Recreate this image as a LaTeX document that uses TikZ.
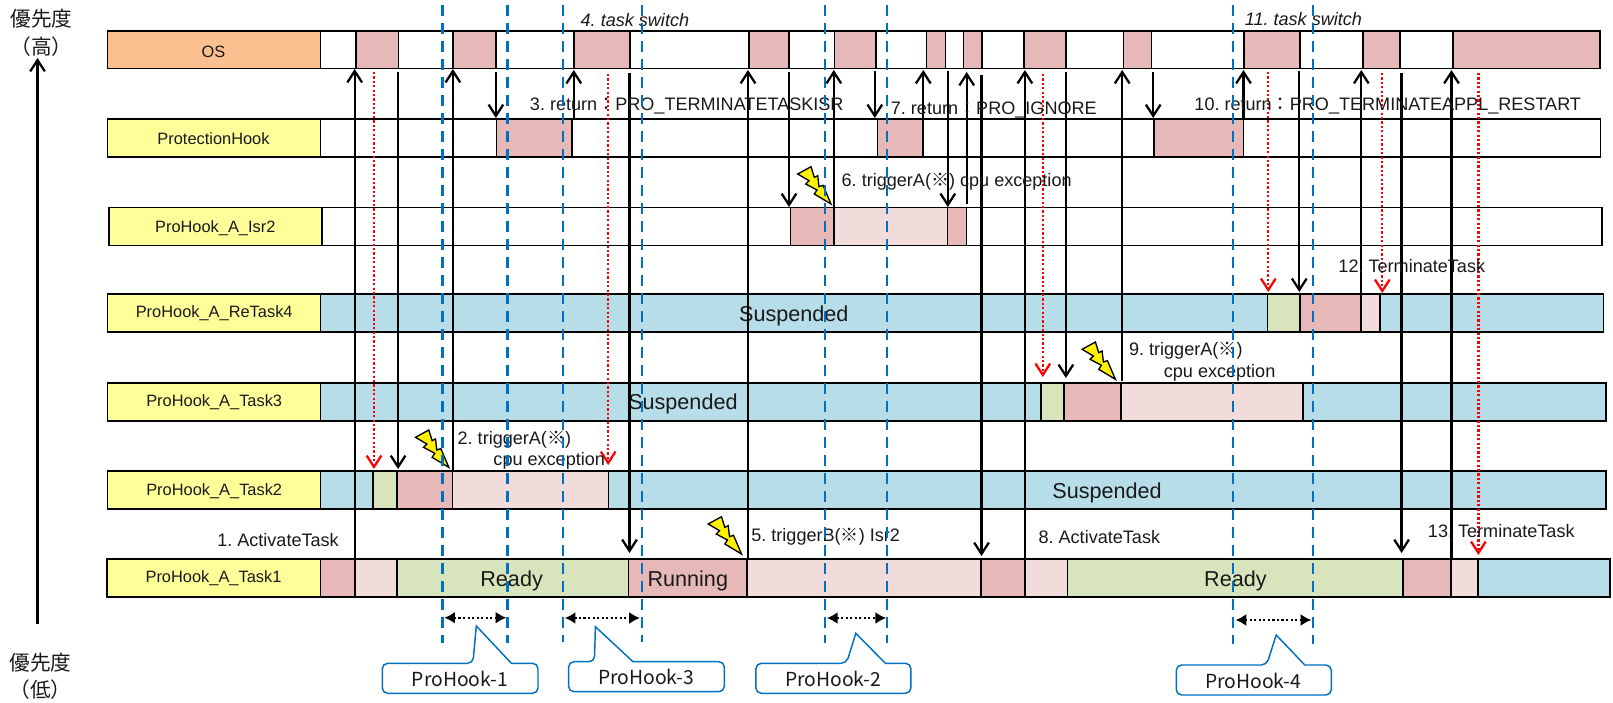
\documentclass[tikz,border=0pt]{standalone}
\usepackage{fontspec}
\usetikzlibrary{arrows.meta}
\setmainfont{Liberation Sans}
\newfontfamily\cjk{Noto Sans CJK JP}
\newcommand{\cj}[1]{{\cjk #1}}
\definecolor{dark}{HTML}{E6B8B7}
\definecolor{light}{HTML}{F2DCDB}
\definecolor{readyc}{HTML}{D8E4BC}
\definecolor{susp}{HTML}{B7DDE8}
\definecolor{lab}{HTML}{FFFF99}
\definecolor{oslab}{HTML}{FAC090}
\definecolor{bluel}{HTML}{0070C0}
\tikzset{
 x=0.75pt,y=-0.75pt,
 seg/.style={draw=black,line width=1.3pt},
 txt/.style={inner sep=0pt,font=\fontsize{13.55}{15}\selectfont,text=black!90},
 rowlab/.style={inner sep=0pt,font=\fontsize{12.3}{14}\selectfont,text=black!90},
 state/.style={inner sep=0pt,font=\fontsize{16.2}{18}\selectfont,text=black!90},
 upar/.style={draw=black,line width=1.7pt,-{Straight Barb[length=8.5pt,width=11pt,line width=1.7pt]}},
 downar/.style={upar},
 redar/.style={draw=red,line width=1.7pt,dash pattern=on 1.6pt off 1.7pt,-{Straight Barb[length=8.5pt,width=11pt,line width=1.7pt]}},
 bluedash/.style={draw=bluel,line width=1.9pt,dash pattern=on 8pt off 5.5pt},
 span/.style={draw=black,line width=1.7pt,dash pattern=on 1.6pt off 1.8pt,{Latex[length=8pt,width=9pt]}-{Latex[length=8pt,width=9pt]}},
 callout/.style={draw=bluel,fill=white,line width=1.1pt,rounded corners=4pt},
 prio/.style={inner sep=0pt,font=\cjk\fontsize{15.5}{17}\selectfont,text=black!90},
 cotext/.style={inner sep=0pt,font=\cjk\fontsize{14.5}{16}\selectfont,text=black!90},
 bolt/.style={draw=black,fill=yellow,line width=1pt,miter limit=10},
}
\newcommand{\boltat}[1]{\begin{scope}[shift={(#1)}]\draw[bolt] (-33.3,-30) -- (-20,-37.3) -- (-16.7,-26.7) -- (-13.3,-28.3) -- (-12,-17.3) -- (-8,-18.7) -- (0,0) -- (-16.7,-10) -- (-14,-14) -- (-25.3,-20) -- (-22,-23.3) -- cycle;\end{scope}}
\begin{document}
\frenchspacing
\begin{tikzpicture}
\useasboundingbox (0,0) rectangle (1613,703);
% OS row
\draw[seg,fill=white] (320.6,31) rectangle (1600,68.5);
\draw[seg,fill=oslab] (107.5,31) rectangle (320.6,68.5);
\foreach \a/\b in {355.8/398.5,452.9/496.3,574.1/630.2,749/788.7,834.5/875.8,926.4/945.4,963.6/981.9,1023.9/1065.9,1123.6/1151.5,1244.2/1300.3,1363/1400.2,1453.2/1600}
 \draw[seg,fill=dark] (\a,31) rectangle (\b,68.5);
\node[rowlab] (tos) at (213.5,52) {OS};
% ProtectionHook row
\draw[seg,fill=white] (320.6,119) rectangle (1600.6,157);
\draw[seg,fill=lab] (107.5,119) rectangle (320.6,157);
\foreach \a/\b in {496.6/572,877.5/923.3,1153.9/1243.5}
 \draw[seg,fill=dark] (\a,119) rectangle (\b,157);
\node[rowlab] (tph) at (213.5,138.3) {ProtectionHook};
% Isr2 row
\draw[seg,fill=white] (322,207.5) rectangle (1602.3,245.5);
\draw[seg,fill=lab] (108.8,207.5) rectangle (322,245.5);
\draw[seg,fill=dark] (790.4,207.5) rectangle (833.8,245.5);
\draw[seg,fill=light] (833.8,207.5) rectangle (947.4,245.5);
\draw[seg,fill=dark] (947.4,207.5) rectangle (966.4,245.5);
\node[rowlab] (tisr) at (215.3,228) {ProHook\_A\_Isr2};
% ReTask4 row
\draw[seg,fill=susp] (320.6,294) rectangle (1603.4,332);
\draw[seg,fill=lab] (107.5,294) rectangle (320.6,332);
\draw[seg,fill=readyc] (1267.6,294) rectangle (1300.3,332);
\draw[seg,fill=dark] (1300.3,294) rectangle (1361.3,332);
\draw[seg,fill=light] (1361.3,294) rectangle (1380.2,332);
\node[rowlab] (tr4) at (214.2,313.3) {ProHook\_A\_ReTask4};
\node[state] (s4) at (793.8,315.5) {Suspended};
% Task3 row
\draw[seg,fill=susp] (320.6,382.7) rectangle (1606,421);
\draw[seg,fill=lab] (107.5,382.7) rectangle (320.6,421);
\draw[seg,fill=readyc] (1041.1,382.7) rectangle (1064.2,421);
\draw[seg,fill=dark] (1064.2,382.7) rectangle (1121.2,421);
\draw[seg,fill=light] (1121.2,382.7) rectangle (1302.7,421);
\node[rowlab] (tt3) at (214.2,402.3) {ProHook\_A\_Task3};
\node[state] (s3) at (682.9,403.7) {Suspended};
% Task2 row
\draw[seg,fill=susp] (320.6,471) rectangle (1605.8,509.3);
\draw[seg,fill=lab] (107.5,471) rectangle (320.6,509.3);
\draw[seg,fill=readyc] (373,471) rectangle (397.1,509.3);
\draw[seg,fill=dark] (397.1,471) rectangle (452.5,509.3);
\draw[seg,fill=light] (452.5,471) rectangle (608.5,509.3);
\node[rowlab] (tt2) at (214.2,490.7) {ProHook\_A\_Task2};
\node[state] (s2) at (1107,492.7) {Suspended};
% Task1 row
\draw[seg,fill=lab] (106.8,558.7) rectangle (320.6,596.7);
\foreach \a/\b/\c in {320.6/354.7/dark,354.7/397.1/light,397.1/628.5/readyc,628.5/747.3/dark,747.3/980.8/light,980.8/1024.9/dark,1024.9/1067.6/light,1067.6/1402.9/readyc,1402.9/1450.8/dark,1450.8/1477.7/light,1477.7/1610.3/susp}
 \draw[seg,fill=\c] (\a,558.7) rectangle (\b,596.7);
\node[rowlab] (tt1) at (213.5,578.3) {ProHook\_A\_Task1};
\node[state] (r1) at (511.6,581) {Ready};
\node[state] (run) at (687.8,581) {Running};
\node[state] (r2) at (1235.4,581) {Ready};
% Connector end points and connectors
\coordinate (ua1) at (354.7,559); \coordinate (ub1) at (354.7,69); \draw[upar] (ua1) -- (ub1);
\coordinate (ra1) at (374,72); \coordinate (rb1) at (374,469); \draw[redar] (ra1) -- (rb1);
\coordinate (da1) at (398.1,72); \coordinate (db1) at (398.1,469); \draw[downar] (da1) -- (db1);
\coordinate (ua2) at (452.9,470); \coordinate (ub2) at (452.9,69); \draw[upar] (ua2) -- (ub2);
\coordinate (da2) at (495.9,72); \coordinate (db2) at (495.9,118); \draw[downar] (da2) -- (db2);
\coordinate (ua3) at (573.8,118); \coordinate (ub3) at (573.8,70); \draw[upar] (ua3) -- (ub3);
\coordinate (ra2) at (608.2,74); \coordinate (rb2) at (608.2,465); \draw[redar] (ra2) -- (rb2);
\coordinate (da3) at (629.5,73); \coordinate (db3) at (629.5,553); \draw[downar] (da3) -- (db3);
\coordinate (ua4) at (748,558); \coordinate (ub4) at (748,70); \draw[upar] (ua4) -- (ub4);
\coordinate (da4) at (789,72); \coordinate (db4) at (789,207); \draw[downar] (da4) -- (db4);
\coordinate (ua5) at (833.8,207); \coordinate (ub5) at (833.8,70); \draw[upar] (ua5) -- (ub5);
\coordinate (da5) at (874.8,71); \coordinate (db5) at (874.8,118); \draw[downar] (da5) -- (db5);
\coordinate (ua6) at (923.3,118); \coordinate (ub6) at (923.3,70); \draw[upar] (ua6) -- (ub6);
\coordinate (da6) at (947.8,71); \coordinate (db6) at (947.8,207); \draw[downar] (da6) -- (db6);
\coordinate (ua7) at (966.7,204); \coordinate (ub7) at (966.7,72); \draw[upar] (ua7) -- (ub7);
\coordinate (da7) at (981.5,75); \coordinate (db7) at (981.5,556); \draw[downar] (da7) -- (db7);
\coordinate (ua8) at (1024.9,558); \coordinate (ub8) at (1024.9,70); \draw[upar] (ua8) -- (ub8);
\coordinate (ra3) at (1042.8,74); \coordinate (rb3) at (1042.8,377); \draw[redar] (ra3) -- (rb3);
\coordinate (da8) at (1065.9,72); \coordinate (db8) at (1065.9,378); \draw[downar] (da8) -- (db8);
\coordinate (ua9) at (1122.2,381); \coordinate (ub9) at (1122.2,70); \draw[upar] (ua9) -- (ub9);
\coordinate (da9) at (1153.2,72); \coordinate (db9) at (1153.2,118); \draw[downar] (da9) -- (db9);
\coordinate (ua10) at (1243.5,118); \coordinate (ub10) at (1243.5,70); \draw[upar] (ua10) -- (ub10);
\coordinate (ra4) at (1268.3,72); \coordinate (rb4) at (1268.3,292); \draw[redar] (ra4) -- (rb4);
\coordinate (da10) at (1299.3,71); \coordinate (db10) at (1299.3,292); \draw[downar] (da10) -- (db10);
\coordinate (ua11) at (1361.3,293); \coordinate (ub11) at (1361.3,70); \draw[upar] (ua11) -- (ub11);
\coordinate (ra5) at (1382.3,73); \coordinate (rb5) at (1382.3,293); \draw[redar] (ra5) -- (rb5);
\coordinate (da11) at (1401.6,73); \coordinate (db11) at (1401.6,553); \draw[downar] (da11) -- (db11);
\coordinate (ua12) at (1451.5,558); \coordinate (ub12) at (1451.5,70); \draw[upar] (ua12) -- (ub12);
\coordinate (ra6) at (1478.4,73); \coordinate (rb6) at (1478.4,555); \draw[redar] (ra6) -- (rb6);
% Priority axis
\coordinate (pa) at (37.5,624); \coordinate (pb) at (37.5,58); \draw[upar] (pa) -- (pb);
\node[prio] (p1) at (41.5,19) {優先度};
\node[prio] (p2) at (41.5,47) {（高）};
\node[prio] (p3) at (40.5,663) {優先度};
\node[prio] (p4) at (40.5,690) {（低）};
% Bolts
\coordinate (b1) at (448.8,467.3); \boltat{b1}
\coordinate (b2) at (831,204); \boltat{b2}
\coordinate (b3) at (741.5,554); \boltat{b3}
\coordinate (b4) at (1115.4,379.3); \boltat{b4}
% Labels
\node[txt,font=\fontsize{13.55}{15}\selectfont\itshape] (l4) at (634.9,20) {4. task switch};
\node[txt,font=\fontsize{13.55}{15}\selectfont\itshape] (l11) at (1303.4,19) {11. task switch};
\node[txt,anchor=west] (l3) at (529.7,105.5) {3. return\cj{：}PRO\_TERMINATETASKISR};
\node[txt,anchor=west] (l7) at (890.6,109.5) {7. return\cj{：}PRO\_IGNORE};
\node[txt,anchor=west] (l10) at (1194.2,105.8) {10. return\cj{：}PRO\_TERMINATEAPPL\_RESTART};
\node[txt,anchor=west] (l6) at (841.4,181.5) {6. triggerA(\cj{※}) cpu exception};
\node[txt,anchor=west] (l12) at (1338.2,265.7) {12. TerminateTask};
\node[txt,anchor=west] (l9) at (1128.8,351) {9. triggerA(\cj{※})};
\node[txt,anchor=west] (l9b) at (1163.6,373.3) {cpu exception};
\node[txt,anchor=west] (l2) at (457.4,439.3) {2. triggerA(\cj{※})};
\node[txt,anchor=west] (l2b) at (493.2,461) {cpu exception};
\node[txt,anchor=west] (l1) at (217,540) {1. ActivateTask};
\node[txt,anchor=west] (l5) at (751.1,537) {5. triggerB(\cj{※}) Isr2};
\node[txt,anchor=west] (l8) at (1038.3,536.7) {8. ActivateTask};
\node[txt,anchor=west] (l13) at (1427.7,531) {13. TerminateTask};
% Blue dashed lines
\foreach \n/\x/\yb in {a/442.6/643,b/507.6/643,c/563.1/642,d/641.9/642,e/824.8/643,f/887.2/643,g/1233.1/644,h/1313/644}{
 \coordinate (bt\n) at (\x,5); \coordinate (bb\n) at (\x,\yb); \draw[bluedash] (bt\n) -- (bb\n);}
% Span arrows
\coordinate (sa1) at (444.3,617.7); \coordinate (sb1) at (506.3,617.7); \draw[span] (sa1) -- (sb1);
\coordinate (sa2) at (564.8,618); \coordinate (sb2) at (639.9,618); \draw[span] (sa2) -- (sb2);
\coordinate (sa3) at (826.9,618); \coordinate (sb3) at (886.1,618); \draw[span] (sa3) -- (sb3);
\coordinate (sa4) at (1235.6,620); \coordinate (sb4) at (1311.3,620); \draw[span] (sa4) -- (sb4);
% Callouts
\draw[callout] (382.3,663.3) -- (472.9,663.3) [sharp corners] -- (476.3,626) -- (511.4,663.3) [rounded corners=4pt] -- (538,663.3) -- (538,693.3) -- (382.3,693.3) -- cycle;
\node[cotext] (c1) at (459.8,679) {ProHook-1};
\draw[callout] (568.6,661.7) -- (594.4,661.7) [sharp corners] -- (595.4,626.7) -- (633,661.7) [rounded corners=4pt] -- (724.3,661.7) -- (724.3,691.7) -- (568.6,691.7) -- cycle;
\node[cotext] (c3) at (646,677.3) {ProHook-3};
\draw[callout] (755.9,663.3) -- (846.5,663.3) [sharp corners] -- (855.8,633.3) -- (885.4,663.3) [rounded corners=4pt] -- (910.9,663.3) -- (910.9,693.3) -- (755.9,693.3) -- cycle;
\node[cotext] (c2) at (833.1,679) {ProHook-2};
\draw[callout] (1176.3,665) -- (1266.6,665) [sharp corners] -- (1276.2,635) -- (1304.8,665) [rounded corners=4pt] -- (1331.3,665) -- (1331.3,695) -- (1176.3,695) -- cycle;
\node[cotext] (c4) at (1253.1,680.5) {ProHook-4};
\end{tikzpicture}
\end{document}
